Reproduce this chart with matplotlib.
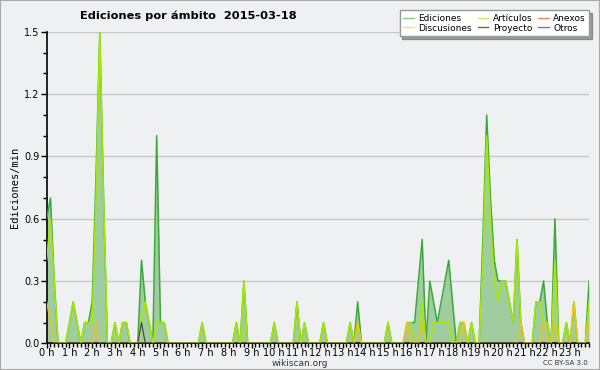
import numpy as np
import matplotlib
matplotlib.use('Agg')
import matplotlib.pyplot as plt
from matplotlib.ticker import MultipleLocator, FixedLocator

# edits per minute, one value per 10-minute bin (6 per hour)
ediciones = [
    .6, .7, .3, 0, 0, 0,      .1, .2, .1, 0, .1, .1,    .2, .8, 1.5, .7, 0, 0,
    .1, 0, .1, .1, 0, 0,      0, .4, .2, .1, 0, 1.0,    .1, .1, 0, 0, 0, 0,
    0, 0, 0, 0, 0, .1,        0, 0, 0, 0, 0, 0,         0, 0, .1, 0, .3, 0,
    0, 0, 0, 0, 0, 0,         .1, 0, 0, 0, 0, 0,        .2, 0, .1, 0, 0, 0,
    0, .1, 0, 0, 0, 0,        0, 0, .1, 0, .2, 0,       0, 0, 0, 0, 0, 0,
    .1, 0, 0, 0, 0, .1,       .1, .1, .3, .5, 0, .3,    .2, .1, .2, .3, .4, .2,
    0, .1, .1, 0, .1, 0,      0, .5, 1.1, .7, .4, .3,   .3, .3, .2, .1, .5, .1,
    0, 0, 0, .2, .2, .3,      .1, 0, .6, 0, 0, .1,      0, .2, 0, 0, 0, .3,
]
articulos = [
    .4, .6, .3, 0, 0, 0,      .1, .2, .1, 0, .1, .1,    .1, .7, 1.5, .7, 0, 0,
    .1, 0, .1, .1, 0, 0,      0, .1, .2, .1, 0, .1,     .1, .1, 0, 0, 0, 0,
    0, 0, 0, 0, 0, .1,        0, 0, 0, 0, 0, 0,         0, 0, .1, 0, .3, 0,
    0, 0, 0, 0, 0, 0,         .1, 0, 0, 0, 0, 0,        .2, 0, .1, 0, 0, 0,
    0, .1, 0, 0, 0, 0,        0, 0, .1, 0, .1, 0,       0, 0, 0, 0, 0, 0,
    .1, 0, 0, 0, 0, .1,       .1, 0, 0, .2, 0, 0,       .1, .1, .1, .1, .1, 0,
    0, .1, .1, 0, .1, 0,      0, .4, 1.0, .6, .3, .2,   .3, .3, .2, .1, .5, .1,
    0, 0, 0, .2, .2, .1,      .1, 0, .4, 0, 0, .1,      0, .2, 0, 0, 0, .2,
]
discusiones = [
    .2, .1, 0, 0, 0, 0,       0, 0, 0, 0, 0, 0,         0, .1, 0, 0, 0, 0,
    0, 0, 0, 0, 0, 0,         0, 0, 0, 0, 0, 0,         0, 0, 0, 0, 0, 0,
    0, 0, 0, 0, 0, 0,         0, 0, 0, 0, 0, 0,         0, 0, 0, 0, 0, 0,
    0, 0, 0, 0, 0, 0,         0, 0, 0, 0, 0, 0,         0, 0, 0, 0, 0, 0,
    0, 0, 0, 0, 0, 0,         0, 0, 0, 0, .1, 0,        0, 0, 0, 0, 0, 0,
    0, 0, 0, 0, 0, .1,        0, 0, 0, .1, 0, 0,        0, 0, 0, 0, 0, 0,
    0, 0, .1, 0, 0, 0,        0, 0, 0, 0, 0, 0,         0, 0, 0, 0, 0, .1,
    0, 0, 0, 0, 0, .1,        0, 0, .1, 0, 0, 0,        0, .2, 0, 0, 0, .1,
]
proyecto = [0] * 144
proyecto[25] = .1

hours = np.arange(144) / 6.0
hour_labels = ['%d h' % h for h in range(24)]

bg = '#eff0f1'
fig = plt.figure(figsize=(6, 3.7), dpi=100, facecolor=bg)
ax = fig.add_axes([0.0778, 0.072, 0.904, 0.842])
ax.set_facecolor(bg)

ax.fill_between(hours, ediciones, color='#9ccc9c', alpha=0.95, lw=0, zorder=2)
ax.plot(hours, ediciones, color='#3aaa3a', lw=1.1, zorder=3)
ax.plot(hours, articulos, color='#a8e800', lw=1.1, zorder=4)
ax.plot(hours, discusiones, color='#f0c020', lw=1.0, zorder=5)
ax.plot(hours, proyecto, color='#4a4a4a', lw=0.9, zorder=6)

ax.set_xlim(0, hours[-1])
ax.set_ylim(0, 1.5)
ax.xaxis.set_major_locator(FixedLocator(range(24)))
ax.set_xticklabels(hour_labels)
ax.xaxis.set_minor_locator(MultipleLocator(1 / 6))
ax.yaxis.set_major_locator(MultipleLocator(0.3))
ax.yaxis.set_minor_locator(MultipleLocator(0.1))
ax.yaxis.set_major_formatter(matplotlib.ticker.FormatStrFormatter('%.1f'))
ax.tick_params(axis='both', which='major', labelsize=7, length=4, width=1, pad=1, colors='black')
ax.tick_params(axis='x', which='major', length=3.5, pad=0)
ax.tick_params(axis='both', which='minor', length=3, width=1)
ax.grid(axis='y', color='#c8c8c8', lw=1)
for s in ['top', 'right']:
    ax.spines[s].set_visible(False)
for s in ['left', 'bottom']:
    ax.spines[s].set_linewidth(1.2)
ax.set_ylabel('Ediciones/min', family='DejaVu Sans Mono', fontsize=7.5, labelpad=3)

fig.text(0.314, 0.957, 'Ediciones por ámbito  2015-03-18', fontsize=8.2, fontweight='bold', ha='center', va='center')
fig.text(0.5, 0.018, 'wikiscan.org', fontsize=6.5, ha='center', va='center', color='#333333')
fig.text(0.98, 0.018, 'CC BY-SA 3.0', fontsize=5, ha='right', va='center', color='#333333')

handles = [
    plt.Line2D([], [], color='#88cc88', lw=1),
    plt.Line2D([], [], color='#ffdd55', lw=1),
    plt.Line2D([], [], color='#ccee66', lw=1),
    plt.Line2D([], [], color='#666666', lw=1),
    plt.Line2D([], [], color='#ee8855', lw=1),
    plt.Line2D([], [], color='#9955ee', lw=1),
]
labels = ['Ediciones', 'Discusiones', 'Artículos', 'Proyecto', 'Anexos', 'Otros']
leg = fig.legend(handles, labels, ncol=3, loc='upper right', bbox_to_anchor=(0.99, 0.985),
                 fontsize=6.5, frameon=True, fancybox=False, shadow=True,
                 handlelength=1.2, handletextpad=0.5, columnspacing=0.6,
                 labelspacing=0.1, borderpad=0.4)
leg.get_frame().set_edgecolor('#999999')
leg.get_frame().set_facecolor('white')

fig.patches.append(plt.Rectangle((0, 0), 1, 1, transform=fig.transFigure, fill=False,
                                 edgecolor='#aaaaaa', lw=1.5))

fig.savefig('out.png', dpi=100, facecolor=bg)
